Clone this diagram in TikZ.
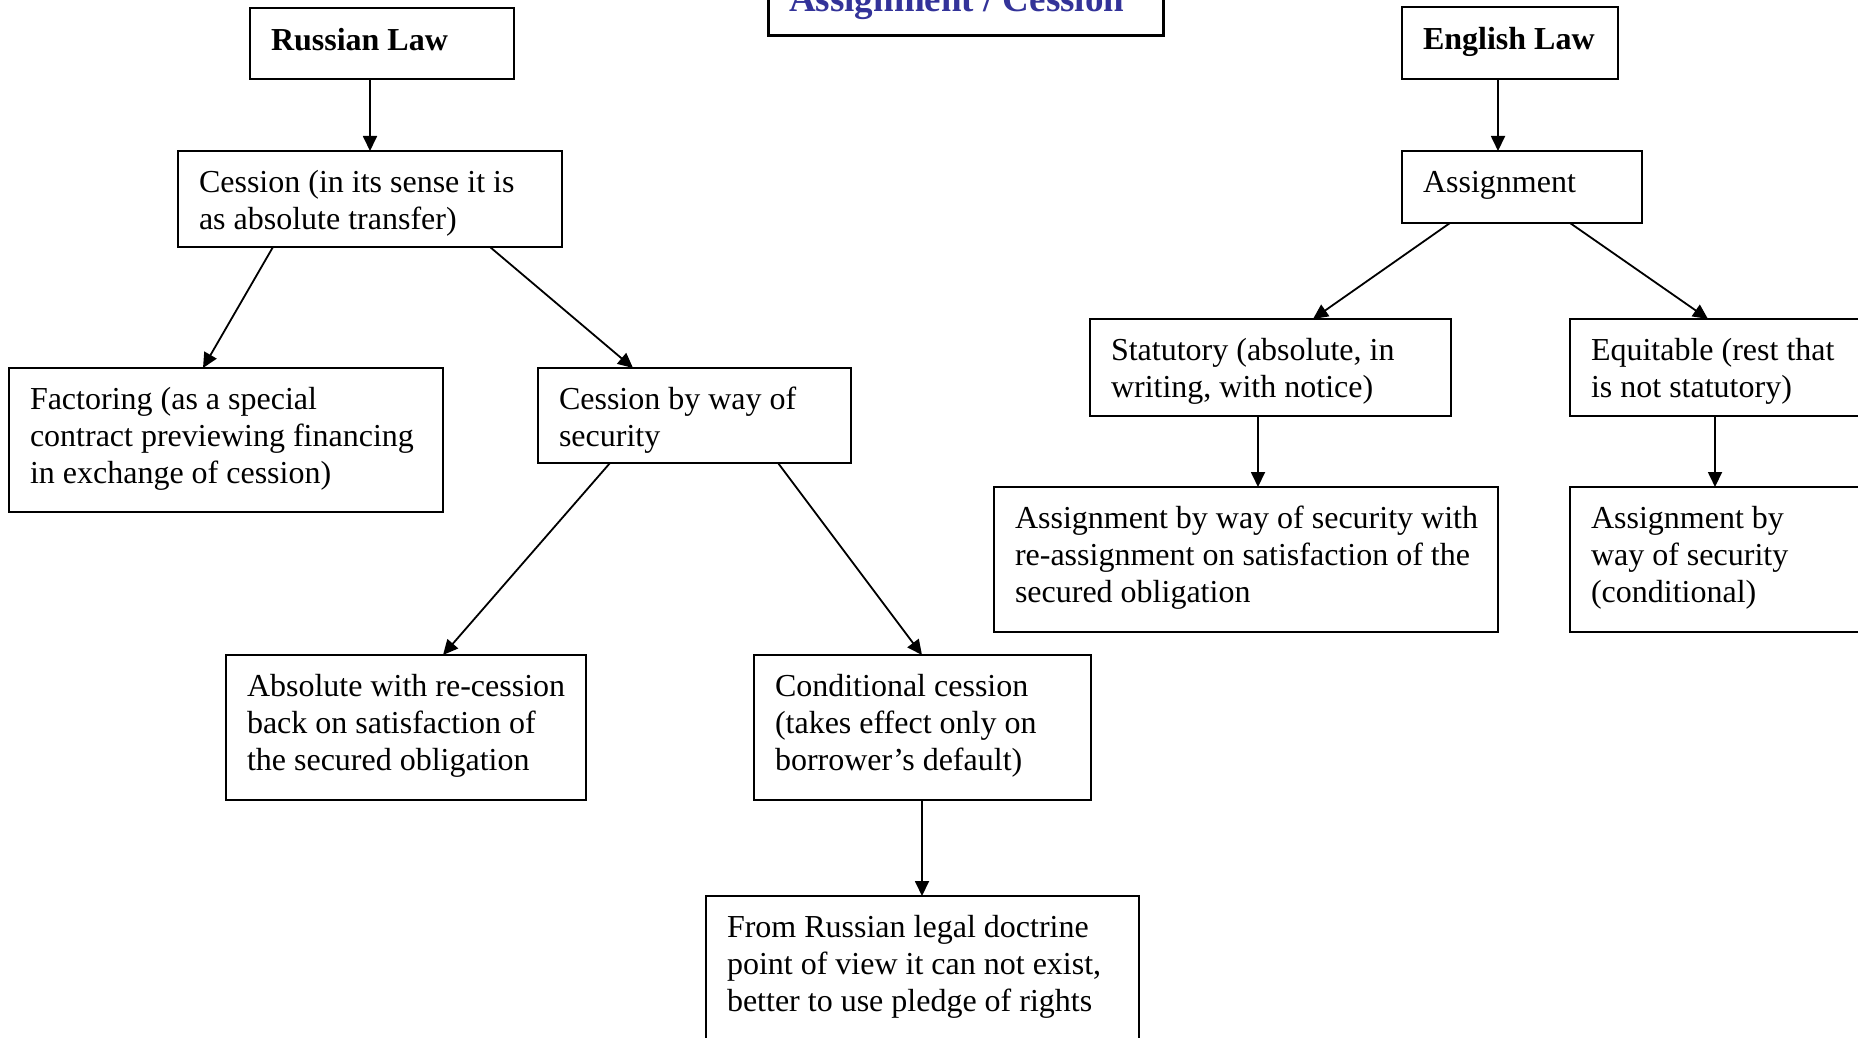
\documentclass[tikz,border=0pt]{standalone}
\usepackage{fontspec}
\setmainfont{Liberation Serif}
\usetikzlibrary{arrows.meta,calc}

\definecolor{titleblue}{RGB}{51,51,153}

% one text block: lines stacked left aligned, baseline on the first line
\newcommand{\boxlines}[1]{\begin{tabular}[t]{@{}l@{}}#1\end{tabular}}

\tikzset{
  frame/.style={draw=black, line width=1.8pt, fill=white, rectangle,
                inner sep=0pt, outer sep=0pt, anchor=north west},
  label text/.style={anchor=base west, inner sep=0pt, outer sep=0pt,
                     font=\fontsize{32}{37}\selectfont},
  head text/.style={label text, font=\fontsize{32}{37}\selectfont\bfseries,
                    yshift=-2pt},
  link/.style={draw=black, line width=1.8pt,
               -{Triangle[length=15pt,width=14pt]}},
}

% \chartbox{name}{left}{top}{right}{bottom}{style}{text}
\newcommand{\chartbox}[7]{%
  \node[frame, minimum width=#4pt-#2pt, minimum height=#5pt-#3pt] (#1) at (#2,#3) {};
  \node[#6] (#1-text) at ($(#1.north west)+(21,41)$) {\boxlines{#7}};
}

\begin{document}
\begin{tikzpicture}[x=1pt,y=-1pt]
  \path[use as bounding box, fill=white] (0,0) rectangle (1858,1038);
  \clip (0,0) rectangle (1858,1038);

  % heading box at the top
  \node[frame, line width=3pt, minimum width=395pt, minimum height=45pt] (title) at (768,-9) {};
  \node[anchor=base west, inner sep=0pt, text=titleblue,
        font=\fontsize{37}{42}\selectfont\bfseries] (title-text) at (789,12) {Assignment / Cession};

  % Russian side
  \chartbox{rus}{250}{8}{514}{79}{head text}{Russian Law}
  \chartbox{cess}{178}{151}{562}{247}{label text}{Cession (in its sense it is\\as absolute transfer)}
  \chartbox{fact}{9}{368}{443}{512}{label text}{Factoring (as a special\\contract previewing financing\\in exchange of cession)}
  \chartbox{cbw}{538}{368}{851}{463}{label text}{Cession by way of\\security}
  \chartbox{abs}{226}{655}{586}{800}{label text}{Absolute with re-cession\\back on satisfaction of\\the secured obligation}
  \chartbox{cond}{754}{655}{1091}{800}{label text}{Conditional cession\\(takes effect only on\\borrower’s default)}
  \chartbox{from}{706}{896}{1139}{1070}{label text}{From Russian legal doctrine\\point of view it can not exist,\\better to use pledge of rights}

  % English side
  \chartbox{eng}{1402}{7}{1618}{79}{head text}{English Law}
  \chartbox{asg}{1402}{151}{1642}{223}{label text}{Assignment}
  \chartbox{stat}{1090}{319}{1451}{416}{label text}{Statutory (absolute, in\\writing, with notice)}
  \chartbox{equi}{1570}{319}{1890}{416}{label text}{Equitable (rest that\\is not statutory)}
  \chartbox{awith}{994}{487}{1498}{632}{label text}{Assignment by way of security with\\re-assignment on satisfaction of the\\secured obligation}
  \chartbox{acond}{1570}{487}{1890}{632}{label text}{Assignment by\\way of security\\(conditional)}

  % connectors, Russian side
  \draw[link] ($(rus.south west)+(120,0)$) -- ($(cess.north west)+(192,0)$);
  \draw[link] ($(cess.south west)+(95,0)$) -- ($(fact.north west)+(194,0)$);
  \draw[link] ($(cess.south west)+(312,0)$) -- ($(cbw.north west)+(95,0)$);
  \draw[link] ($(cbw.south west)+(72,0)$) -- ($(abs.north west)+(217,0)$);
  \draw[link] ($(cbw.south west)+(240,0)$) -- ($(cond.north west)+(168,0)$);
  \draw[link] ($(cond.south west)+(168,0)$) -- ($(from.north west)+(216,0)$);

  % connectors, English side
  \draw[link] ($(eng.south west)+(96,0)$) -- ($(asg.north west)+(96,0)$);
  \draw[link] ($(asg.south west)+(48,0)$) -- ($(stat.north west)+(223,0)$);
  \draw[link] ($(asg.south west)+(168,0)$) -- ($(equi.north west)+(138,0)$);
  \draw[link] ($(stat.south west)+(168,0)$) -- ($(awith.north west)+(264,0)$);
  \draw[link] ($(equi.south west)+(145,0)$) -- ($(acond.north west)+(145,0)$);
\end{tikzpicture}
\end{document}
